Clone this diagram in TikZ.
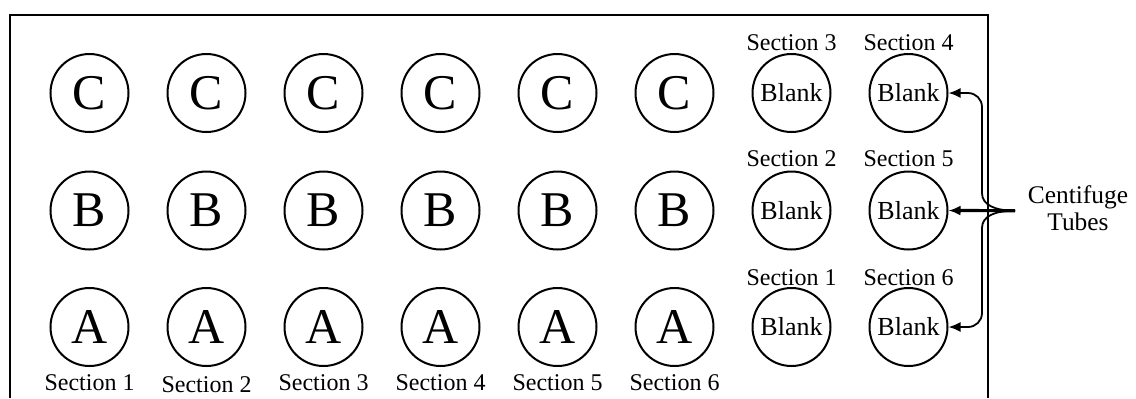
\documentclass[tikz,border=0pt]{standalone}
\usepackage{fontspec}
\setmainfont{Liberation Serif}
\usetikzlibrary{arrows.meta}

\tikzset{
  tube/.style={circle, draw, line width=1pt, minimum size=39pt, inner sep=0pt,
    font=\fontsize{25}{25}\selectfont},
  blank/.style={tube, font=\fontsize{13}{13}\selectfont},
  sec/.style={anchor=base, inner sep=0pt, font=\fontsize{12}{14}\selectfont},
  feed/.style={line width=0.9pt, -{Latex[length=6pt,width=5pt]}},
}

\begin{document}
\begin{tikzpicture}[x=0.5pt, y=-0.5pt]
\useasboundingbox (0,0) rectangle (1136,398);

% rack outline, open at the bottom
\draw[line width=1pt] (9.5,398) -- (9.5,14.5) -- (987.5,14.5) -- (987.5,398);

% sample tubes, one column per section
\foreach \i/\yb in {1/390, 2/392.5, 3/390, 4/390, 5/390, 6/390} {
  \node[tube] (c\i) at ({89.5+117*(\i-1)},93) {C};
  \node[tube] (b\i) at ({89.5+117*(\i-1)},210.5) {B};
  \node[tube] (a\i) at ({89.5+117*(\i-1)},327) {A};
  \node[sec] (s\i) at ({89.5+117*(\i-1)},\yb) {Section \i};
}

% blanks
\node[blank] (bl3) at (791.5,93) {Blank};
\node[blank] (bl2) at (791.5,210.5) {Blank};
\node[blank] (bl1) at (791.5,327) {Blank};
\node[blank] (bl4) at (908.5,93) {Blank};
\node[blank] (bl5) at (908.5,210.5) {Blank};
\node[blank] (bl6) at (908.5,327) {Blank};
\node[sec] (t3) at (791.5,50) {Section 3};
\node[sec] (t2) at (791.5,166) {Section 2};
\node[sec] (t1) at (791.5,285) {Section 1};
\node[sec] (t4) at (908.5,50) {Section 4};
\node[sec] (t5) at (908.5,166) {Section 5};
\node[sec] (t6) at (908.5,285) {Section 6};

% callout
\node[align=center, inner sep=0pt, font=\fontsize{12.7}{13.3}\selectfont] (tubes) at (1078,208) {Centifuge\\Tubes};
\coordinate (fork) at (1015,210.7);
\coordinate (up) at (982,193);
\coordinate (dn) at (982,228);

\draw[feed, line width=1.6pt] (fork) -- (bl5.east);
\draw[feed] (fork) .. controls +(-20,0) and +(0,12) .. (up) [rounded corners=7pt] |- (bl4.east);
\draw[feed] (fork) .. controls +(-20,0) and +(0,-12) .. (dn) [rounded corners=7pt] |- (bl6.east);
\end{tikzpicture}
\end{document}
